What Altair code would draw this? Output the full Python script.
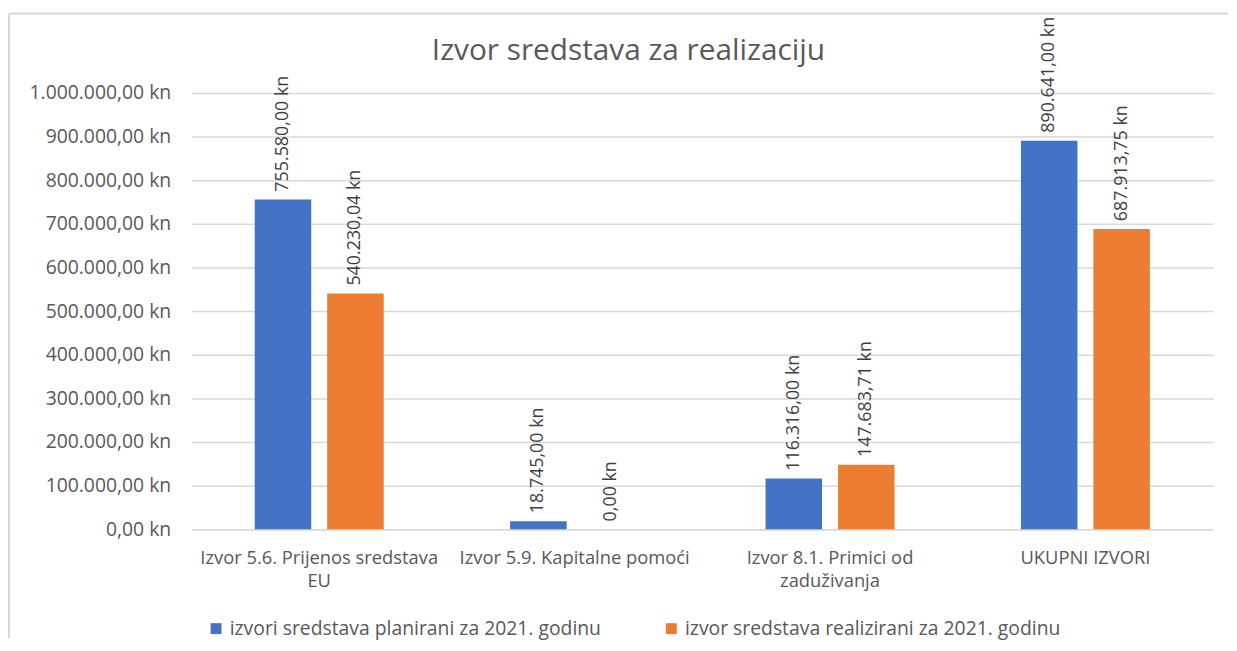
import altair as alt
import pandas as pd

categories = [
    "Izvor 5.6. Prijenos sredstava|EU",
    "Izvor 5.9. Kapitalne pomoći",
    "Izvor 8.1. Primici od|zaduživanja",
    "UKUPNI IZVORI",
]
series = [
    "izvori sredstava planirani za 2021. godinu",
    "izvor sredstava realizirani za 2021. godinu",
]
planned = [755580.00, 18745.00, 116316.00, 890641.00]
realized = [540230.04, 0.00, 147683.71, 687913.75]
y_ticks = [0, 100000, 200000, 300000, 400000, 500000, 600000, 700000, 800000, 900000, 1000000]
colors = ["#4472C4", "#ED7D31"]

rows = []
for c, p, r in zip(categories, planned, realized):
    rows.append({"cat": c, "series": series[0], "value": p})
    rows.append({"cat": c, "series": series[1], "value": r})
df = pd.DataFrame(rows)

W, H = 1030, 440
FONT = "Open Sans"
GRAY = "#595959"
LINE = "#d9d9d9"

base = alt.Chart(df).encode(
    x=alt.X(
        "cat:N",
        sort=categories,
        scale=alt.Scale(paddingInner=0.495, paddingOuter=0.2475),
        axis=alt.Axis(
            title=None,
            labelExpr="split(datum.label, '|')",
            labelAngle=0,
            labelFontSize=18.5,
            labelFont=FONT,
            labelColor=GRAY,
            labelPadding=19,
            labelLineHeight=24,
            ticks=False,
            domainColor=LINE,
            domainWidth=1.5,
            labelOverlap=False,
            labelLimit=400,
        ),
    ),
    xOffset=alt.XOffset("series:N", sort=series, scale=alt.Scale(paddingInner=0.22, paddingOuter=0)),
)

bars = base.mark_bar().encode(
    y=alt.Y(
        "value:Q",
        scale=alt.Scale(domain=[0, 1000000], nice=False),
        axis=alt.Axis(
            values=y_ticks,
            format="$,.2f",
            title=None,
            labelFontSize=19.5,
            labelFont=FONT,
            labelColor=GRAY,
            labelPadding=21,
            ticks=False,
            domain=False,
            gridColor=LINE,
            gridWidth=1.5,
        ),
    ),
    color=alt.Color(
        "series:N",
        sort=series,
        scale=alt.Scale(domain=series, range=colors),
        legend=alt.Legend(
            title=None,
            orient="none",
            direction="horizontal",
            legendX=15,
            legendY=530,
            symbolType="square",
            symbolSize=121,
            symbolStrokeWidth=0,
            labelFontSize=19.5,
            labelFont=FONT,
            labelColor=GRAY,
            labelLimit=600,
            columnPadding=60,
        ),
    ),
)

labels = base.mark_text(
    angle=270, align="left", baseline="middle", dx=8, fontSize=18, font=FONT, color="#404040"
).encode(
    y=alt.Y("value:Q"),
    text=alt.Text("value:Q", format="$,.2f"),
)

frame_df = pd.DataFrame({"k": [0]})
left_border = alt.Chart(frame_df).mark_rule(color=LINE, strokeWidth=2).encode(
    x=alt.value(-184), y=alt.value(-80), y2=alt.value(H + 110)
)
top_border = alt.Chart(frame_df).mark_rule(color=LINE, strokeWidth=2).encode(
    x=alt.value(-184), x2=alt.value(1045), y=alt.value(-80)
)

chart = (
    alt.layer(left_border, top_border, bars, labels)
    .properties(
        width=W,
        height=H,
        padding={"left": 0, "top": 2, "right": 0, "bottom": 0},
        title=alt.TitleParams(
            "Izvor sredstava za realizaciju",
            fontSize=30,
            font=FONT,
            fontWeight="normal",
            color=GRAY,
            anchor="middle",
            frame="bounds",
            offset=-54,
            dx=10,
        ),
    )
    .configure_view(stroke=None)
)

chart.save(
    "out.html",
    embed_options={
        "renderer": "svg",
        "actions": False,
        "formatLocale": {
            "decimal": ",",
            "thousands": ".",
            "grouping": [3],
            "currency": ["", " kn"],
        },
    },
)
